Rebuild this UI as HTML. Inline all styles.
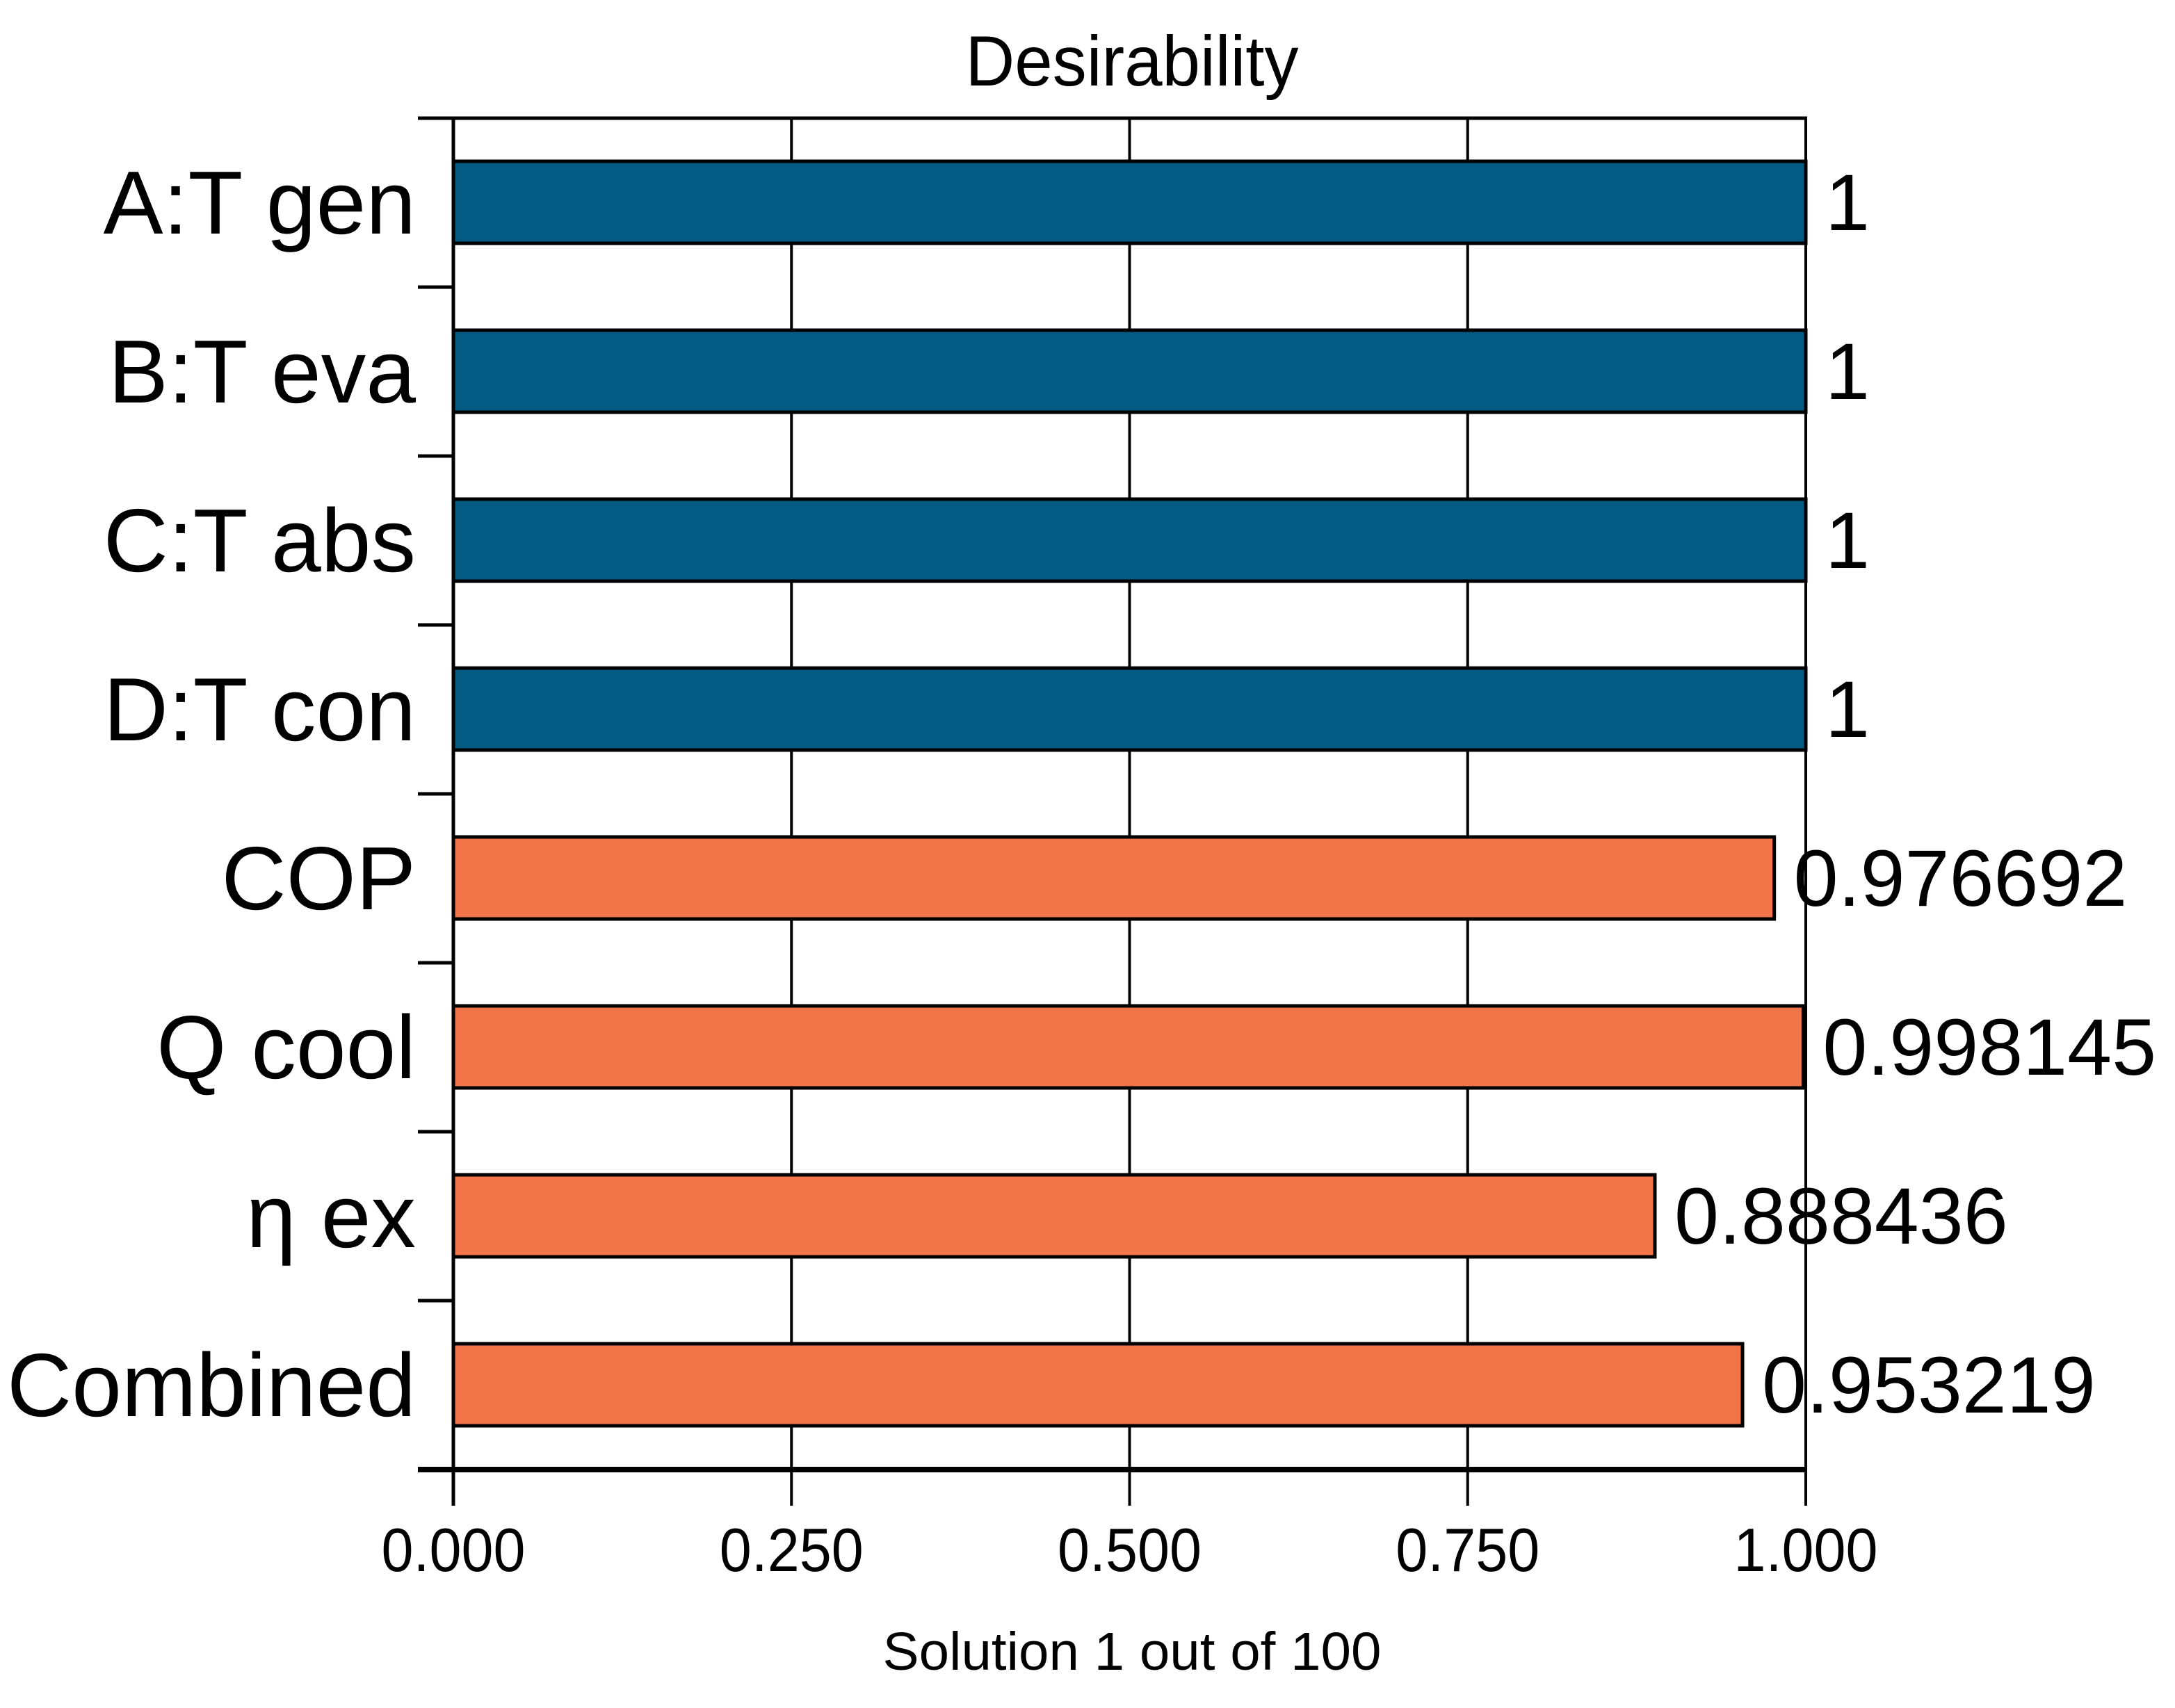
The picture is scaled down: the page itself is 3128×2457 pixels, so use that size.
<!DOCTYPE html>
<html><head><meta charset="utf-8"><style>
html,body{margin:0;padding:0;background:#fff;}
svg{display:block;font-family:"Liberation Sans",Arial,sans-serif;}
</style></head><body>
<svg id="chart" width="3128" height="2457" viewBox="0 0 3128 2457" xmlns="http://www.w3.org/2000/svg">
<text x="1628" y="123" font-size="102" text-anchor="middle" textLength="479" lengthAdjust="spacingAndGlyphs">Desirability</text>
<text x="1628" y="2402" font-size="77" text-anchor="middle" textLength="717" lengthAdjust="spacingAndGlyphs">Solution 1 out of 100</text>
<g id="grid"></g>
<g id="bars"></g>
<g id="axes"></g>
</svg>
<script>
const categories = ["A:T gen","B:T eva","C:T abs","D:T con","COP","Q cool","η ex","Combined"];
const values = [1,1,1,1,0.976692,0.998145,0.888436,0.953219];
const valueLabels = ["1","1","1","1","0.976692","0.998145","0.888436","0.953219"];
const kinds = ["factor","factor","factor","factor","response","response","response","response"];
const ticks = [0,0.25,0.5,0.75,1];
const tickLabels = ["0.000","0.250","0.500","0.750","1.000"];

const NS="http://www.w3.org/2000/svg";
const X0=652, X1=2597, Y0=170, Y1=2114;
const rowH=(Y1-Y0)/categories.length;
function xs(v){return X0+(X1-X0)*v;}
function rowTop(i){return Y0+i*rowH;}
function mk(tag,attrs,parent){const e=document.createElementNS(NS,tag);for(const k in attrs)e.setAttribute(k,attrs[k]);parent.appendChild(e);return e;}
const grid=document.getElementById('grid'),bars=document.getElementById('bars'),axes=document.getElementById('axes');

ticks.forEach((t,i)=>{
  const l=mk('line',{x1:xs(t),x2:xs(t),y1:Y0,y2:Y1+52,stroke:'#000','stroke-width':4},grid);
  
  
  const tx=mk('text',{x:xs(t),y:2260,'font-size':88,'text-anchor':'middle',textLength:207,lengthAdjust:'spacingAndGlyphs'},axes);
  tx.textContent=tickLabels[i];
  
  
});

categories.forEach((c,i)=>{
  const top=rowTop(i)+62;
  const r=mk('rect',{x:X0,y:top,width:xs(values[i])-X0,height:118,fill:kinds[i]==='factor'?'#035a82':'#f27449',stroke:'#000','stroke-width':5},bars);
  
  
  const cy=top+59;
  const lab=mk('text',{x:598,y:cy+45,'font-size':129,'text-anchor':'end'},axes);
  lab.textContent=c;
  
  
  const v=mk('text',{x:xs(values[i])+28,y:cy+40,'font-size':115},axes);
  v.textContent=valueLabels[i];
  
  
});

for(let i=1;i<=categories.length;i++){
  const tk=mk('line',{x1:601,x2:X0,y1:rowTop(i),y2:rowTop(i),stroke:'#000','stroke-width':5},axes);
  
  
}
const topL=mk('line',{x1:601,x2:X1+2,y1:Y0,y2:Y0,stroke:'#000','stroke-width':5},axes);


const leftL=mk('line',{x1:X0,x2:X0,y1:Y0-2,y2:Y1+52,stroke:'#000','stroke-width':5},axes);


const botL=mk('line',{x1:601,x2:X1+2,y1:Y1,y2:Y1,stroke:'#000','stroke-width':8},axes);


</script>
</body></html>
